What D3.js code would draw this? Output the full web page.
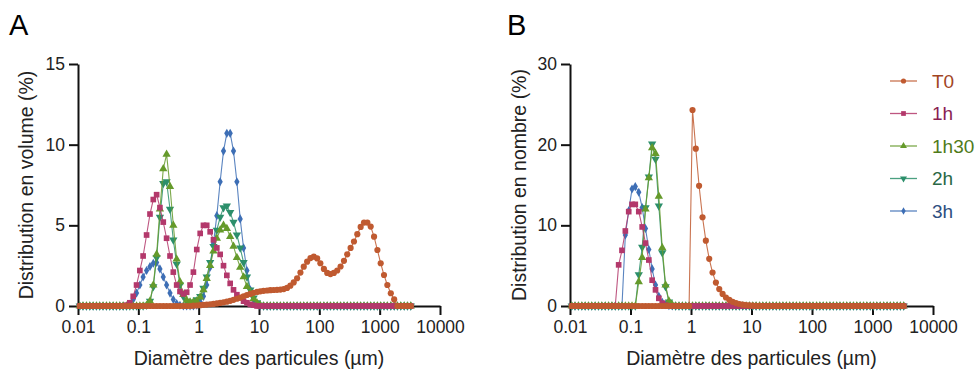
<!DOCTYPE html>
<html><head><meta charset="utf-8">
<script src="https://cdn.jsdelivr.net/npm/d3@7"></script>
<style>
body{margin:0;background:#fff}
svg{display:block}
text{font-family:"Liberation Sans",Arial,Helvetica,sans-serif}
</style>
</head><body>
<svg id="chart" width="976" height="372"></svg>
<script>
// Particle size classes (µm), bin centres
const sizeClasses = [
  0.0107,0.0121,0.0138,0.0157,0.0178,0.0202,0.0229,0.026,0.0296,0.0336,
  0.0382,0.0434,0.0493,0.056,0.0637,0.0723,0.0822,0.0934,0.106,0.12,
  0.137,0.156,0.177,0.201,0.228,0.259,0.294,0.335,0.38,0.432,
  0.49,0.557,0.633,0.72,0.818,0.93,1.06,1.2,1.36,1.55,
  1.76,2.0,2.27,2.58,2.93,3.33,3.78,4.3,4.88,5.55,
  6.31,7.17,8.14,9.25,10.5,11.9,13.6,15.4,17.5,19.9,
  22.6,25.7,29.2,33.1,37.6,42.8,48.6,55.2,62.8,71.3,
  81,92.1,104,119,135,153,174,198,225,256,
  290,330,375,426,484,550,625,710,807,917,
  1040,1180,1340,1530,1740,1970,2240,2550,2890,3280
];

const seriesNames = ["T0","1h","1h30","2h","3h"];

// Panel A: volume distribution (%)
const volT0 = [
  0,0,0,0,0,0,0,0,0,0,
  0,0,0,0,0,0,0,0,0,0,
  0,0,0,0,0,0,0,0,0,0,
  0,0,0,0,0.02,0.03,0.05,0.07,0.09,0.11,
  0.13,0.16,0.19,0.23,0.27,0.32,0.38,0.45,0.52,0.6,
  0.68,0.75,0.82,0.87,0.91,0.94,0.96,0.98,0.99,1.0,
  1.02,1.05,1.12,1.26,1.46,1.72,2.07,2.44,2.75,2.97,
  3.06,2.95,2.65,2.3,2.05,1.98,2.05,2.2,2.45,2.8,
  3.2,3.6,4.0,4.45,4.9,5.17,5.17,4.92,4.3,3.47,
  2.65,1.92,1.3,0.79,0.41,0,0,0,0,0
];
const vol1h = [
  0,0,0,0,0,0,0,0,0,0,
  0,0,0,0,0.05,0.2,0.6,1.3,2.2,3.1,
  4.4,5.7,6.6,6.9,6.1,5.2,4.2,3.1,2.1,1.3,
  0.9,0.75,0.85,1.3,2.1,3.5,4.5,5.0,5.0,4.6,
  4.1,3.6,3.2,2.5,1.9,1.4,1.0,0.7,0.5,0.3,
  0.2,0.1,0.05,0,0,0,0,0,0,0,
  0,0,0,0,0,0,0,0,0,0,
  0,0,0,0,0,0,0,0,0,0,
  0,0,0,0,0,0,0,0,0,0,
  0,0,0,0,0,0,0,0,0,0
];
const vol1h30 = [
  0,0,0,0,0,0,0,0,0,0,
  0,0,0,0,0,0,0,0,0,0,
  0.05,0.3,1.3,3.2,6.0,8.5,9.4,7.4,5.0,2.9,
  1.5,0.7,0.35,0.25,0.25,0.3,0.55,1.0,1.7,2.5,
  3.4,4.2,4.7,5.0,4.8,4.3,3.7,3.0,2.4,1.8,
  1.2,0.8,0.45,0.2,0.05,0,0,0,0,0,
  0,0,0,0,0,0,0,0,0,0,
  0,0,0,0,0,0,0,0,0,0,
  0,0,0,0,0,0,0,0,0,0,
  0,0,0,0,0,0,0,0,0,0
];
const vol2h = [
  0,0,0,0,0,0,0,0,0,0,
  0,0,0,0,0,0,0,0,0,0,
  0.05,0.3,1.2,3.0,5.5,7.6,7.7,6.0,4.1,2.6,
  1.3,0.6,0.3,0.2,0.25,0.4,0.6,1.1,1.8,2.7,
  3.7,4.7,5.5,6.1,6.2,5.8,5.2,4.4,3.6,2.7,
  1.8,1.0,0.5,0.2,0.05,0,0,0,0,0,
  0,0,0,0,0,0,0,0,0,0,
  0,0,0,0,0,0,0,0,0,0,
  0,0,0,0,0,0,0,0,0,0,
  0,0,0,0,0,0,0,0,0,0
];
const vol3h = [
  0,0,0,0,0,0,0,0,0,0,
  0,0,0,0,0,0.1,0.4,0.8,1.3,1.8,
  2.2,2.45,2.65,2.7,2.3,1.8,1.3,0.8,0.4,0.15,
  0.05,0,0,0,0,0.05,0.25,0.6,1.3,2.4,
  3.9,5.6,7.7,9.6,10.7,10.7,9.6,7.7,5.4,3.6,
  2.2,1.0,0.4,0.1,0,0,0,0,0,0,
  0,0,0,0,0,0,0,0,0,0,
  0,0,0,0,0,0,0,0,0,0,
  0,0,0,0,0,0,0,0,0,0,
  0,0,0,0,0,0,0,0,0,0
];

// Panel B: number distribution (%)
const numT0 = [
  0,0,0,0,0,0,0,0,0,0,
  0,0,0,0,0,0,0,0,0,0,
  0,0,0,0,0,0,0,0,0,0,
  0,0,0,0,0,0,24.3,19.5,14.9,11.0,
  8.1,5.85,4.15,2.9,2.1,1.5,1.05,0.75,0.52,0.36,
  0.25,0.17,0.11,0.07,0.04,0.02,0.01,0,0,0,
  0,0,0,0,0,0,0,0,0,0,
  0,0,0,0,0,0,0,0,0,0,
  0,0,0,0,0,0,0,0,0,0,
  0,0,0,0,0,0,0,0,0,0
];
const num1h = [
  0,0,0,0,0,0,0,0,0,0,
  0,0,0,0,5.1,6.9,9.3,11.7,12.6,12.6,
  11.7,9.8,7.8,5.7,3.2,2.0,0.95,0.35,0.1,0,
  0,0,0,0,0,0,0,0,0,0,
  0,0,0,0,0,0,0,0,0,0,
  0,0,0,0,0,0,0,0,0,0,
  0,0,0,0,0,0,0,0,0,0,
  0,0,0,0,0,0,0,0,0,0,
  0,0,0,0,0,0,0,0,0,0,
  0,0,0,0,0,0,0,0,0,0
];
const num1h30 = [
  0,0,0,0,0,0,0,0,0,0,
  0,0,0,0,0,0,0,0,0,0,
  3.0,6.0,12.0,15.9,19.6,18.9,13.6,7.2,2.6,0.6,
  0.15,0,0,0,0,0,0,0,0,0,
  0,0,0,0,0,0,0,0,0,0,
  0,0,0,0,0,0,0,0,0,0,
  0,0,0,0,0,0,0,0,0,0,
  0,0,0,0,0,0,0,0,0,0,
  0,0,0,0,0,0,0,0,0,0,
  0,0,0,0,0,0,0,0,0,0
];
const num2h = [
  0,0,0,0,0,0,0,0,0,0,
  0,0,0,0,0,0,0,0,0,0,
  3.9,7.3,12.2,16.0,20.1,18.2,12.4,6.6,2.4,0.5,
  0.1,0,0,0,0,0,0,0,0,0,
  0,0,0,0,0,0,0,0,0,0,
  0,0,0,0,0,0,0,0,0,0,
  0,0,0,0,0,0,0,0,0,0,
  0,0,0,0,0,0,0,0,0,0,
  0,0,0,0,0,0,0,0,0,0,
  0,0,0,0,0,0,0,0,0,0
];
const num3h = [
  0,0,0,0,0,0,0,0,0,0,
  0,0,0,0,0,0,8.8,11.8,14.5,14.8,
  14.1,12.2,9.6,7.0,4.6,2.6,1.2,0.45,0.15,0.03,
  0,0,0,0,0,0,0,0,0,0,
  0,0,0,0,0,0,0,0,0,0,
  0,0,0,0,0,0,0,0,0,0,
  0,0,0,0,0,0,0,0,0,0,
  0,0,0,0,0,0,0,0,0,0,
  0,0,0,0,0,0,0,0,0,0,
  0,0,0,0,0,0,0,0,0,0
];

const xTicks = [0.01,0.1,1,10,100,1000,10000];
const xTickLabels = ["0.01","0.1","1","10","100","1000","10000"];
const yTicksVol = [0,5,10,15];
const yTicksNum = [0,10,20,30];

// styling
const markerColors = ["#C05A30","#B3386B","#659A2B","#2C8F6B","#3D6EB5"];
const textColors   = ["#A2451F","#8A1E52","#4F7B1A","#2A6845","#2F4F80"];
const symbolTypes  = [d3.symbolCircle, d3.symbolSquare, d3.symbolTriangle, d3.symbolTriangle, d3.symbolDiamond];
const symbolSizes  = [30, 32, 30, 30, 24];
const symbolRot    = [0, 0, 0, 180, 0];

const svg = d3.select("#chart");
const TOP = 64, BOTTOM = 306;

function drawPanel(o) {
  const g = svg.append("g");
  const x = d3.scaleLog().domain([0.01, 10000]).range([o.x0, o.x1]);
  const y = d3.scaleLinear().domain([0, o.yMax]).range([BOTTOM, TOP]);

  const xAxis = g.append("g").attr("transform", `translate(0,${BOTTOM})`)
    .call(d3.axisBottom(x).tickValues(xTicks).tickFormat((d,i)=>xTickLabels[i])
      .tickSize(9).tickSizeOuter(0).tickPadding(6));
  const yAxis = g.append("g").attr("transform", `translate(${o.x0},0)`)
    .call(d3.axisLeft(y).tickValues(o.yTicks).tickSize(9).tickSizeOuter(0).tickPadding(4));
  [xAxis, yAxis].forEach(a => {
    a.select(".domain").attr("stroke", "#111").attr("stroke-width", 2);
    a.selectAll(".tick line").attr("stroke", "#111").attr("stroke-width", 2);
    a.selectAll(".tick text").attr("fill", "#222").style("font-size", "17.5px")
      .style("font-family", '"Liberation Sans",Arial,sans-serif');
  });

  // series, last drawn on top (T0 on top)
  for (let s = o.series.length - 1; s >= 0; s--) {
    const vals = o.series[s];
    const line = d3.line().x((d,i)=>x(sizeClasses[i])).y(d=>y(d));
    g.append("path").datum(vals).attr("d", line)
      .attr("fill", "none").attr("stroke", markerColors[s]).attr("stroke-width", 1.1)
      .attr("stroke-opacity", 0.85);
    const sym = d3.symbol().type(symbolTypes[s]).size(symbolSizes[s]);
    g.append("g").selectAll("path").data(vals).join("path")
      .attr("d", sym)
      .attr("transform", (d,i)=>`translate(${x(sizeClasses[i])},${y(d)}) rotate(${symbolRot[s]})`)
      .attr("fill", markerColors[s]);
  }

  // titles
  g.append("text").attr("x", (o.x0 + o.x1) / 2).attr("y", 365)
    .attr("text-anchor", "middle").style("font-size", "19.5px").attr("fill", "#222")
    .text("Diamètre des particules (µm)");
  g.append("text").attr("transform", `translate(${o.yTitleX},185) rotate(-90)`)
    .attr("text-anchor", "middle").style("font-size", "19.5px").attr("fill", "#222")
    .text(o.yTitle);
  g.append("text").attr("x", o.letterX).attr("y", 35)
    .style("font-size", "29px").attr("fill", "#000").text(o.letter);
}

drawPanel({x0: 78, x1: 440, yMax: 15, yTicks: yTicksVol,
  series: [volT0, vol1h, vol1h30, vol2h, vol3h],
  yTitle: "Distribution en volume (%)", yTitleX: 33, letter: "A", letterX: 9});
drawPanel({x0: 570, x1: 933, yMax: 30, yTicks: yTicksNum,
  series: [numT0, num1h, num1h30, num2h, num3h],
  yTitle: "Distribution en nombre (%)", yTitleX: 526, letter: "B", letterX: 507});

// legend
const leg = svg.append("g");
const legY = [81, 113.5, 146, 178.5, 211];
seriesNames.forEach((name, s) => {
  const gy = legY[s];
  leg.append("line").attr("x1", 890).attr("x2", 917).attr("y1", gy).attr("y2", gy)
    .attr("stroke", markerColors[s]).attr("stroke-width", 1.3).attr("stroke-opacity", 0.85);
  leg.append("path").attr("d", d3.symbol().type(symbolTypes[s]).size(symbolSizes[s]*0.7)())
    .attr("transform", `translate(903.5,${gy}) rotate(${symbolRot[s]})`)
    .attr("fill", markerColors[s]);
  leg.append("text").attr("x", 932).attr("y", gy).attr("dy", "0.35em")
    .style("font-size", "19px").attr("fill", textColors[s]).text(name);
});
</script>
</body></html>
